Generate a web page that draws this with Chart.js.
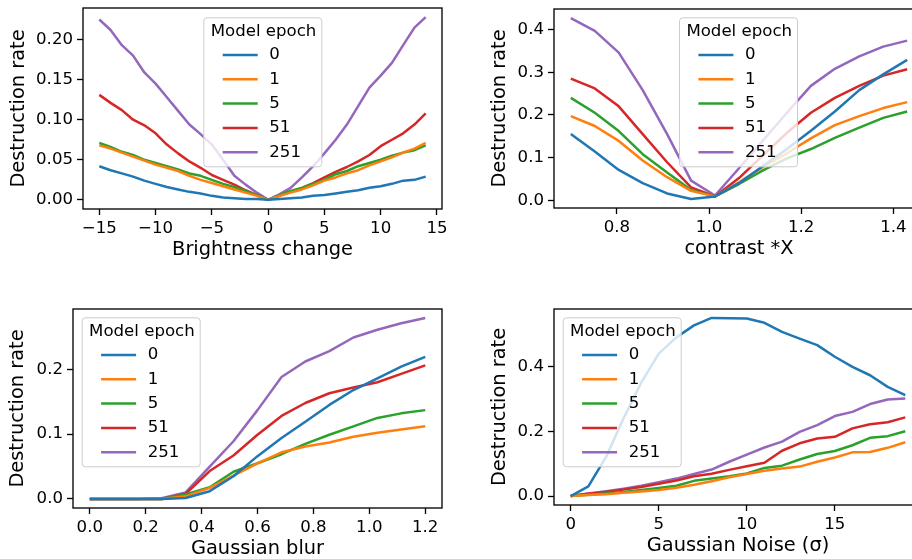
<!DOCTYPE html>
<html>
<head>
<meta charset="utf-8">
<script src="https://cdn.jsdelivr.net/npm/chart.js@4.4.1/dist/chart.umd.min.js"></script>
<style>
  html, body { margin: 0; padding: 0; background: #fff; overflow: hidden; width: 912px; height: 559px; position: relative; }
  .panel { position: absolute; }
</style>
</head>
<body>
<div class="panel" style="left:-1px;top:0;width:453px;height:270px"><canvas id="brightness"></canvas></div>
<div class="panel" style="left:470px;top:0;width:464px;height:269px"><canvas id="contrast"></canvas></div>
<div class="panel" style="left:-11px;top:300px;width:463px;height:269px"><canvas id="blur"></canvas></div>
<div class="panel" style="left:470px;top:300px;width:462px;height:266px"><canvas id="noise"></canvas></div>
<script>
// legend entries + tab10 colours
const epochs = ["0", "1", "5", "51", "251"];
const tab10 = ["#1f77b4", "#ff7f0e", "#2ca02c", "#d62728", "#9467bd"];

// Brightness change
const brightX = [-15, -14, -13, -12, -11, -10, -9, -8, -7, -6, -5, -4, -3, -2, -1, 0,
    1, 2, 3, 4, 5, 6, 7, 8, 9, 10, 11, 12, 13, 14];
const bright0 = [0.042, 0.037, 0.033, 0.029, 0.024, 0.020, 0.016, 0.013, 0.010, 0.008, 0.005, 0.003, 0.002, 0.001, 0.001, 0,
    0.001, 0.002, 0.003, 0.005, 0.006, 0.008, 0.010, 0.012, 0.015, 0.017, 0.020, 0.024, 0.025, 0.029];
const bright1 = [0.068, 0.064, 0.059, 0.054, 0.049, 0.044, 0.040, 0.036, 0.030, 0.025, 0.021, 0.017, 0.013, 0.009, 0.005, 0,
    0.005, 0.009, 0.013, 0.018, 0.024, 0.028, 0.033, 0.037, 0.043, 0.048, 0.053, 0.059, 0.064, 0.071];
const bright5 = [0.071, 0.066, 0.060, 0.056, 0.050, 0.046, 0.042, 0.038, 0.033, 0.030, 0.025, 0.020, 0.016, 0.011, 0.006, 0,
    0.006, 0.011, 0.015, 0.020, 0.025, 0.032, 0.036, 0.042, 0.046, 0.050, 0.055, 0.059, 0.062, 0.068];
const bright51 = [0.131, 0.121, 0.112, 0.100, 0.093, 0.083, 0.069, 0.058, 0.048, 0.040, 0.031, 0.025, 0.019, 0.012, 0.006, 0,
    0.005, 0.010, 0.015, 0.021, 0.028, 0.035, 0.041, 0.048, 0.056, 0.067, 0.075, 0.083, 0.094, 0.108];
const bright251 = [0.225, 0.212, 0.193, 0.180, 0.159, 0.145, 0.128, 0.111, 0.094, 0.082, 0.069, 0.050, 0.030, 0.019, 0.009, 0,
    0.007, 0.015, 0.028, 0.042, 0.058, 0.075, 0.094, 0.117, 0.140, 0.155, 0.171, 0.193, 0.215, 0.228];

// contrast *X
const contrastX = [0.700, 0.752, 0.804, 0.856, 0.909, 0.961, 1.013, 1.065, 1.117, 1.169, 1.221, 1.273, 1.326, 1.378, 1.430];
const contrast0 = [0.155, 0.114, 0.071, 0.040, 0.016, 0.003, 0.009, 0.040, 0.080, 0.120, 0.163, 0.208, 0.258, 0.295, 0.329];
const contrast1 = [0.197, 0.174, 0.139, 0.093, 0.054, 0.022, 0.009, 0.042, 0.078, 0.110, 0.145, 0.176, 0.197, 0.216, 0.230];
const contrast5 = [0.240, 0.205, 0.162, 0.108, 0.065, 0.024, 0.009, 0.038, 0.070, 0.098, 0.120, 0.146, 0.170, 0.193, 0.208];
const contrast51 = [0.285, 0.262, 0.220, 0.155, 0.089, 0.030, 0.009, 0.052, 0.105, 0.158, 0.205, 0.240, 0.268, 0.292, 0.307];
const contrast251 = [0.427, 0.397, 0.346, 0.258, 0.155, 0.046, 0.011, 0.075, 0.140, 0.205, 0.268, 0.308, 0.337, 0.360, 0.374];

// Gaussian blur
const blurX = [0, 0.086, 0.171, 0.257, 0.343, 0.429, 0.514, 0.6, 0.686, 0.771, 0.857, 0.943, 1.029, 1.114, 1.2];
const blur0 = [0, 0, 0, 0, 0.0015, 0.012, 0.035, 0.066, 0.094, 0.119, 0.145, 0.168, 0.186, 0.204, 0.219];
const blur1 = [0, 0, 0, 0, 0.004, 0.017, 0.036, 0.055, 0.072, 0.081, 0.087, 0.096, 0.102, 0.107, 0.112];
const blur5 = [0, 0, 0, 0, 0.007, 0.018, 0.042, 0.055, 0.069, 0.085, 0.099, 0.112, 0.125, 0.132, 0.137];
const blur51 = [0, 0, 0, 0, 0.008, 0.043, 0.067, 0.099, 0.128, 0.148, 0.163, 0.172, 0.180, 0.193, 0.206];
const blur251 = [0, 0, 0, 0.001, 0.010, 0.050, 0.089, 0.137, 0.188, 0.212, 0.228, 0.249, 0.261, 0.271, 0.279];

// Gaussian noise (sigma)
const noiseX = [0, 1, 2, 3, 4, 5, 6, 7, 8, 9, 10, 11, 12, 13, 14, 15, 16, 17, 18, 19];
const noise0 = [0, 0.030, 0.120, 0.240, 0.350, 0.440, 0.490, 0.527, 0.550, 0.549, 0.548, 0.535, 0.507, 0.486, 0.466, 0.430, 0.399, 0.373, 0.337, 0.312];
const noise1 = [0, 0.003, 0.006, 0.010, 0.014, 0.019, 0.026, 0.035, 0.046, 0.058, 0.068, 0.078, 0.085, 0.091, 0.106, 0.119, 0.135, 0.136, 0.149, 0.166];
const noise5 = [0, 0.004, 0.008, 0.013, 0.019, 0.025, 0.032, 0.047, 0.054, 0.061, 0.070, 0.087, 0.094, 0.113, 0.130, 0.139, 0.157, 0.180, 0.185, 0.200];
const noise51 = [0, 0.007, 0.013, 0.020, 0.028, 0.038, 0.048, 0.061, 0.069, 0.081, 0.092, 0.103, 0.140, 0.163, 0.178, 0.183, 0.209, 0.222, 0.228, 0.243];
const noise251 = [0, 0.008, 0.015, 0.023, 0.032, 0.043, 0.054, 0.068, 0.082, 0.106, 0.128, 0.150, 0.168, 0.198, 0.219, 0.247, 0.260, 0.284, 0.298, 0.301];

Chart.defaults.font.family = '"DejaVu Sans", sans-serif';
Chart.defaults.color = "#000";

// matplotlib-like 5% margins
function span(values) {
    const lo = Math.min(...values), hi = Math.max(...values);
    const m = (hi - lo) * 0.05;
    return [lo - m, hi + m];
}

// full box round the axes
const frame = {
    id: "frame",
    afterDatasetsDraw(chart) {
        const { ctx, chartArea: a } = chart;
        ctx.save();
        ctx.strokeStyle = "#000";
        ctx.lineWidth = 1.33;
        ctx.strokeRect(a.left, a.top, a.right - a.left, a.bottom - a.top);
        ctx.restore();
    },
};

// legend drawn inside the axes, with a title
const boxLegend = {
    id: "boxLegend",
    afterDraw(chart, args, opts) {
        const { ctx, chartArea: a } = chart;
        const x = a.left + opts.x, y = a.top + opts.y;
        ctx.save();
        ctx.beginPath();
        ctx.roundRect(x + 0.5, y + 0.5, 118, 149, 3.3);
        ctx.fillStyle = "rgba(255,255,255,0.8)";
        ctx.fill();
        ctx.strokeStyle = "#cccccc";
        ctx.lineWidth = 1;
        ctx.stroke();
        ctx.font = '16.6px "DejaVu Sans"';
        ctx.fillStyle = "#000";
        ctx.textBaseline = "middle";
        ctx.fillText("Model epoch", x + 7.4, y + 14.4);
        chart.data.datasets.forEach((ds, i) => {
            const cy = y + 37.7 + 24.3 * i;
            ctx.strokeStyle = ds.borderColor;
            ctx.lineWidth = 2.5;
            ctx.beginPath();
            ctx.moveTo(x + 19.4, cy);
            ctx.lineTo(x + 54.4, cy);
            ctx.stroke();
            ctx.fillText(ds.label, x + 66, cy);
        });
        ctx.restore();
    },
};

function axis(isX, range, ticks, fmt, title, titlePad) {
    return {
        type: "linear",
        min: range[0],
        max: range[1],
        afterBuildTicks: (s) => { s.ticks = ticks.map((v) => ({ value: v })); },
        afterFit: (s) => {
            if (isX) { s.height = 61; s.paddingLeft = 0; s.paddingRight = 0; }
            else { s.width = 84; s.paddingTop = 0; s.paddingBottom = 0; }
        },
        border: { display: false },
        grid: { drawOnChartArea: false, drawTicks: true, tickLength: 6, tickWidth: 1.33, tickColor: "#000" },
        ticks: { color: "#000", font: { size: 16.6 }, padding: 4, maxRotation: 0, autoSkip: false, callback: (v) => fmt(v) },
        title: {
            display: true, text: title, color: "#000", font: { size: 19.4 },
            padding: isX ? { top: 0, bottom: 8.4 } : { top: titlePad, bottom: 0 },
        },
    };
}

function makePanel(id, xs, series, o) {
    new Chart(document.getElementById(id), {
        type: "line",
        data: {
            datasets: series.map((ys, i) => ({
                label: epochs[i],
                data: xs.map((x, j) => ({ x: x, y: ys[j] })),
                borderColor: tab10[i],
                borderWidth: 2.5,
                borderJoinStyle: "round",
                pointRadius: 0,
                tension: 0,
                fill: false,
            })),
        },
        options: {
            responsive: true,
            maintainAspectRatio: false,
            animation: false,
            layout: { padding: { top: o.padTop, right: 10, left: 0, bottom: 0 } },
            plugins: {
                legend: { display: false },
                tooltip: { enabled: false },
                boxLegend: { x: o.legendX, y: o.legendY },
            },
            scales: {
                x: axis(true, span(xs), o.xTicks, o.xFmt, o.xTitle, 0),
                y: axis(false, span(series.flat()), o.yTicks, o.yFmt, "Destruction rate", o.yTitlePad),
            },
        },
        plugins: [frame, boxLegend],
    });
}

const minus = (v) => (v < 0 ? "\u2212" + Math.abs(v) : String(v));
const f1 = (v) => v.toFixed(1);
const f2 = (v) => v.toFixed(2);

makePanel("brightness", brightX, [bright0, bright1, bright5, bright51, bright251], {
    padTop: 8, yTitlePad: 8.4, legendX: 120.3, legendY: 9.3,
    xTicks: [-15, -10, -5, 0, 5, 10, 15], xFmt: minus, xTitle: "Brightness change",
    yTicks: [0, 0.05, 0.1, 0.15, 0.2], yFmt: f2,
});
makePanel("contrast", contrastX, [contrast0, contrast1, contrast5, contrast51, contrast251], {
    padTop: 9, yTitlePad: 18.4, legendX: 125, legendY: 8.3,
    xTicks: [0.8, 1.0, 1.2, 1.4], xFmt: f1, xTitle: "contrast *X",
    yTicks: [0, 0.1, 0.2, 0.3, 0.4], yFmt: f1,
});
makePanel("blur", blurX, [blur0, blur1, blur5, blur51, blur251], {
    padTop: 9, yTitlePad: 17.7, legendX: 8.7, legendY: 8.3,
    xTicks: [0, 0.2, 0.4, 0.6, 0.8, 1.0, 1.2], xFmt: f1, xTitle: "Gaussian blur",
    yTicks: [0, 0.1, 0.2], yFmt: f1,
});
makePanel("noise", noiseX, [noise0, noise1, noise5, noise51, noise251], {
    padTop: 9, yTitlePad: 18.4, legendX: 8.7, legendY: 8.3,
    xTicks: [0, 5, 10, 15], xFmt: (v) => String(v), xTitle: "Gaussian Noise (\u03c3)",
    yTicks: [0, 0.2, 0.4], yFmt: f1,
});
</script>
</body>
</html>
